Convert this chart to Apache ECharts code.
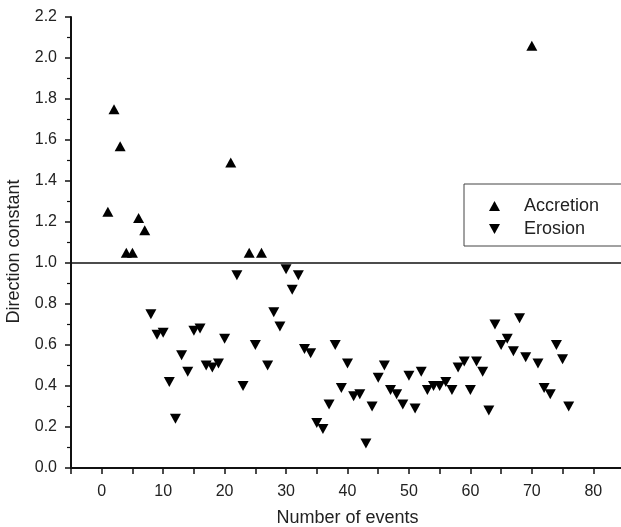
<!DOCTYPE html>
<html>
<head>
<meta charset="utf-8">
<script src="https://cdn.jsdelivr.net/npm/echarts@6/dist/echarts.min.js"></script>
<style>
    html, body { margin: 0; padding: 0; background: #fff; }
    #chart { width: 621px; height: 527px; }
</style>
</head>
<body>
<div id="chart"></div>
<script>
// accretion events (x = event number, y = direction constant)
var accretionX = [1, 2, 3, 4, 5, 6, 7, 21, 24, 26, 70];
var accretionY = [1.25, 1.75, 1.57, 1.05, 1.05, 1.22, 1.16, 1.49, 1.05, 1.05, 2.06];

// erosion events
var erosionX = [8, 9, 10, 11, 12, 13, 14, 15, 16, 17, 18, 19, 20, 22, 23, 25, 27, 28, 29, 30,
    31, 32, 33, 34, 35, 36, 37, 38, 39, 40, 41, 42, 43, 44, 45, 46, 47, 48, 49, 50,
    51, 52, 53, 54, 55, 56, 57, 58, 59, 60, 61, 62, 63, 64, 65, 66, 67, 68, 69, 71,
    72, 73, 74, 75, 76];
var erosionY = [0.75, 0.65, 0.66, 0.42, 0.24, 0.55, 0.47, 0.67, 0.68, 0.50, 0.49, 0.51, 0.63, 0.94, 0.40, 0.60, 0.50, 0.76, 0.69, 0.97,
    0.87, 0.94, 0.58, 0.56, 0.22, 0.19, 0.31, 0.60, 0.39, 0.51, 0.35, 0.36, 0.12, 0.30, 0.44, 0.50, 0.38, 0.36, 0.31, 0.45,
    0.29, 0.47, 0.38, 0.40, 0.40, 0.42, 0.38, 0.49, 0.52, 0.38, 0.52, 0.47, 0.28, 0.70, 0.60, 0.63, 0.57, 0.73, 0.54, 0.51,
    0.39, 0.36, 0.60, 0.53, 0.30];

var referenceLevel = 1.0;

function pairs(xs, ys) {
    return xs.map(function (x, i) { return [x, ys[i]]; });
}

var downTriangle = 'path://M0,0L10,0L5,9Z';
var upTriangle = 'path://M5,0L10,9L0,9Z';
var fontName = 'Liberation Sans, Arial, sans-serif';

var chart = echarts.init(document.getElementById('chart'));
chart.setOption({
    animation: false,
    grid: {
        left: 71,
        top: 17,
        bottom: 59,
        width: 553,
        outerBoundsMode: 'none'
    },
    legend: {
        left: 464,
        top: 184,
        orient: 'vertical',
        borderColor: '#444',
        borderWidth: 1,
        padding: [13, 60, 8, 25],
        itemGap: 5,
        itemWidth: 11,
        itemHeight: 10,
        textStyle: {
            fontSize: 18,
            color: '#222',
            fontFamily: fontName,
            padding: [0, 0, 0, 19]
        },
        data: [
            { name: 'Accretion', icon: upTriangle },
            { name: 'Erosion', icon: downTriangle }
        ]
    },
    xAxis: {
        type: 'value',
        min: -5,
        max: 85,
        interval: 5,
        name: 'Number of events',
        nameLocation: 'middle',
        nameGap: 41,
        nameTextStyle: { fontSize: 18, color: '#222', fontFamily: fontName },
        axisLine: { onZero: false, lineStyle: { color: '#111', width: 2 } },
        axisTick: { length: 6, lineStyle: { color: '#111', width: 1.5 } },
        axisLabel: {
            fontSize: 16,
            color: '#222',
            fontFamily: fontName,
            margin: 16,
            formatter: function (v) { return v % 10 === 0 ? v : ''; }
        },
        splitLine: { show: false }
    },
    yAxis: {
        type: 'value',
        min: 0,
        max: 2.2,
        interval: 0.2,
        name: 'Direction constant',
        nameLocation: 'middle',
        nameGap: 48,
        nameTextStyle: { fontSize: 18, color: '#222', fontFamily: fontName, padding: [0, 18, 0, 0] },
        axisLine: { show: true, onZero: false, lineStyle: { color: '#111', width: 2 } },
        axisTick: { show: true, length: 6, lineStyle: { color: '#111', width: 1.5 } },
        minorTick: { show: true, splitNumber: 2, length: 4, lineStyle: { color: '#111', width: 1.2 } },
        axisLabel: {
            fontSize: 16,
            color: '#222',
            fontFamily: fontName,
            margin: 14,
            formatter: function (v) { return v.toFixed(1); }
        },
        splitLine: { show: false }
    },
    series: [
        {
            name: 'Accretion',
            type: 'scatter',
            symbol: upTriangle,
            symbolSize: [11, 10],
            itemStyle: { color: '#000', opacity: 1 },
            data: pairs(accretionX, accretionY),
            markLine: {
                silent: true,
                symbol: 'none',
                label: { show: false },
                lineStyle: { color: '#111', width: 1.5, type: 'solid' },
                data: [{ yAxis: referenceLevel }]
            }
        },
        {
            name: 'Erosion',
            type: 'scatter',
            symbol: downTriangle,
            symbolSize: [11, 10],
            itemStyle: { color: '#000', opacity: 1 },
            data: pairs(erosionX, erosionY)
        }
    ]
});
window.addEventListener('resize', function () {
    chart.resize();
});
</script>
</body>
</html>
